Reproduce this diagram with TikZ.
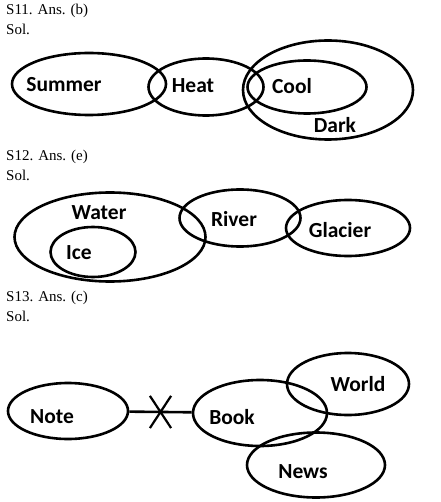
\documentclass[tikz,border=0pt]{standalone}
\usepackage{fontspec}
\setmainfont{Liberation Serif}
\newfontfamily\labelfont{Carlito}
\usetikzlibrary{shapes.geometric,shapes.misc}

\begin{document}
\begin{tikzpicture}[x=1pt, y=-1pt,
	ring/.style={ellipse, draw, line width=2.6pt, inner sep=0pt},
	word/.style={font=\labelfont\bfseries\fontsize{21.5}{24}\selectfont, inner sep=0pt},
	head/.style={anchor=west, inner sep=0pt, font=\fontsize{15}{17}\selectfont}]

	\useasboundingbox (0,0) rectangle (440,502);

	% S11
	\node[head] (h11) at (6,11) {S11. Ans. (b)};
	\node[head] (s11) at (6,29) {Sol.};
	\node[ring, minimum width=154, minimum height=62] (summer) at (89,84) {};
	\node[ring, minimum width=115, minimum height=57] (heat) at (206,87) {};
	\node[ring, minimum width=119, minimum height=53] (cool) at (307,87) {};
	\node[ring, minimum width=170, minimum height=99] (dark) at (328,90) {};
	\node[word] (summerT) at (64,85) {Summer};
	\node[word] (heatT) at (193,86) {Heat};
	\node[word] (coolT) at (292,86) {Cool};
	\node[word] (darkT) at (335,125) {Dark};

	% S12
	\node[head] (h12) at (6,157) {S12. Ans. (e)};
	\node[head] (s12) at (6,175) {Sol.};
	\node[ring, minimum width=191, minimum height=89] (water) at (110,237) {};
	\node[ring, minimum width=85, minimum height=50] (ice) at (93,252) {};
	\node[ring, minimum width=121, minimum height=57] (river) at (240,218) {};
	\node[ring, minimum width=124, minimum height=56] (glacier) at (348,228) {};
	\node[word] (waterT) at (99,213) {Water};
	\node[word] (iceT) at (79,253) {Ice};
	\node[word] (riverT) at (234,219) {River};
	\node[word] (glacierT) at (340,230) {Glacier};

	% S13
	\node[head] (h13) at (6,298) {S13. Ans. (c)};
	\node[head] (s13) at (6,316) {Sol.};
	\node[ring, minimum width=120, minimum height=56] (note) at (68,411) {};
	\node[ring, minimum width=134, minimum height=66] (book) at (260,413) {};
	\node[ring, minimum width=122, minimum height=62] (world) at (348,384) {};
	\node[ring, minimum width=138, minimum height=65] (news) at (316,465) {};
	\node[word] (noteT) at (52,417) {Note};
	\node[word] (bookT) at (232,417) {Book};
	\node[word] (worldT) at (358,384) {World};
	\node[word] (newsT) at (303,472) {News};

	\draw[line width=2.6pt] (note) -- (book)
		node[pos=0.5, cross out, draw, line width=2.2pt, minimum width=19, minimum height=30] (cut) {};

\end{tikzpicture}
\end{document}
